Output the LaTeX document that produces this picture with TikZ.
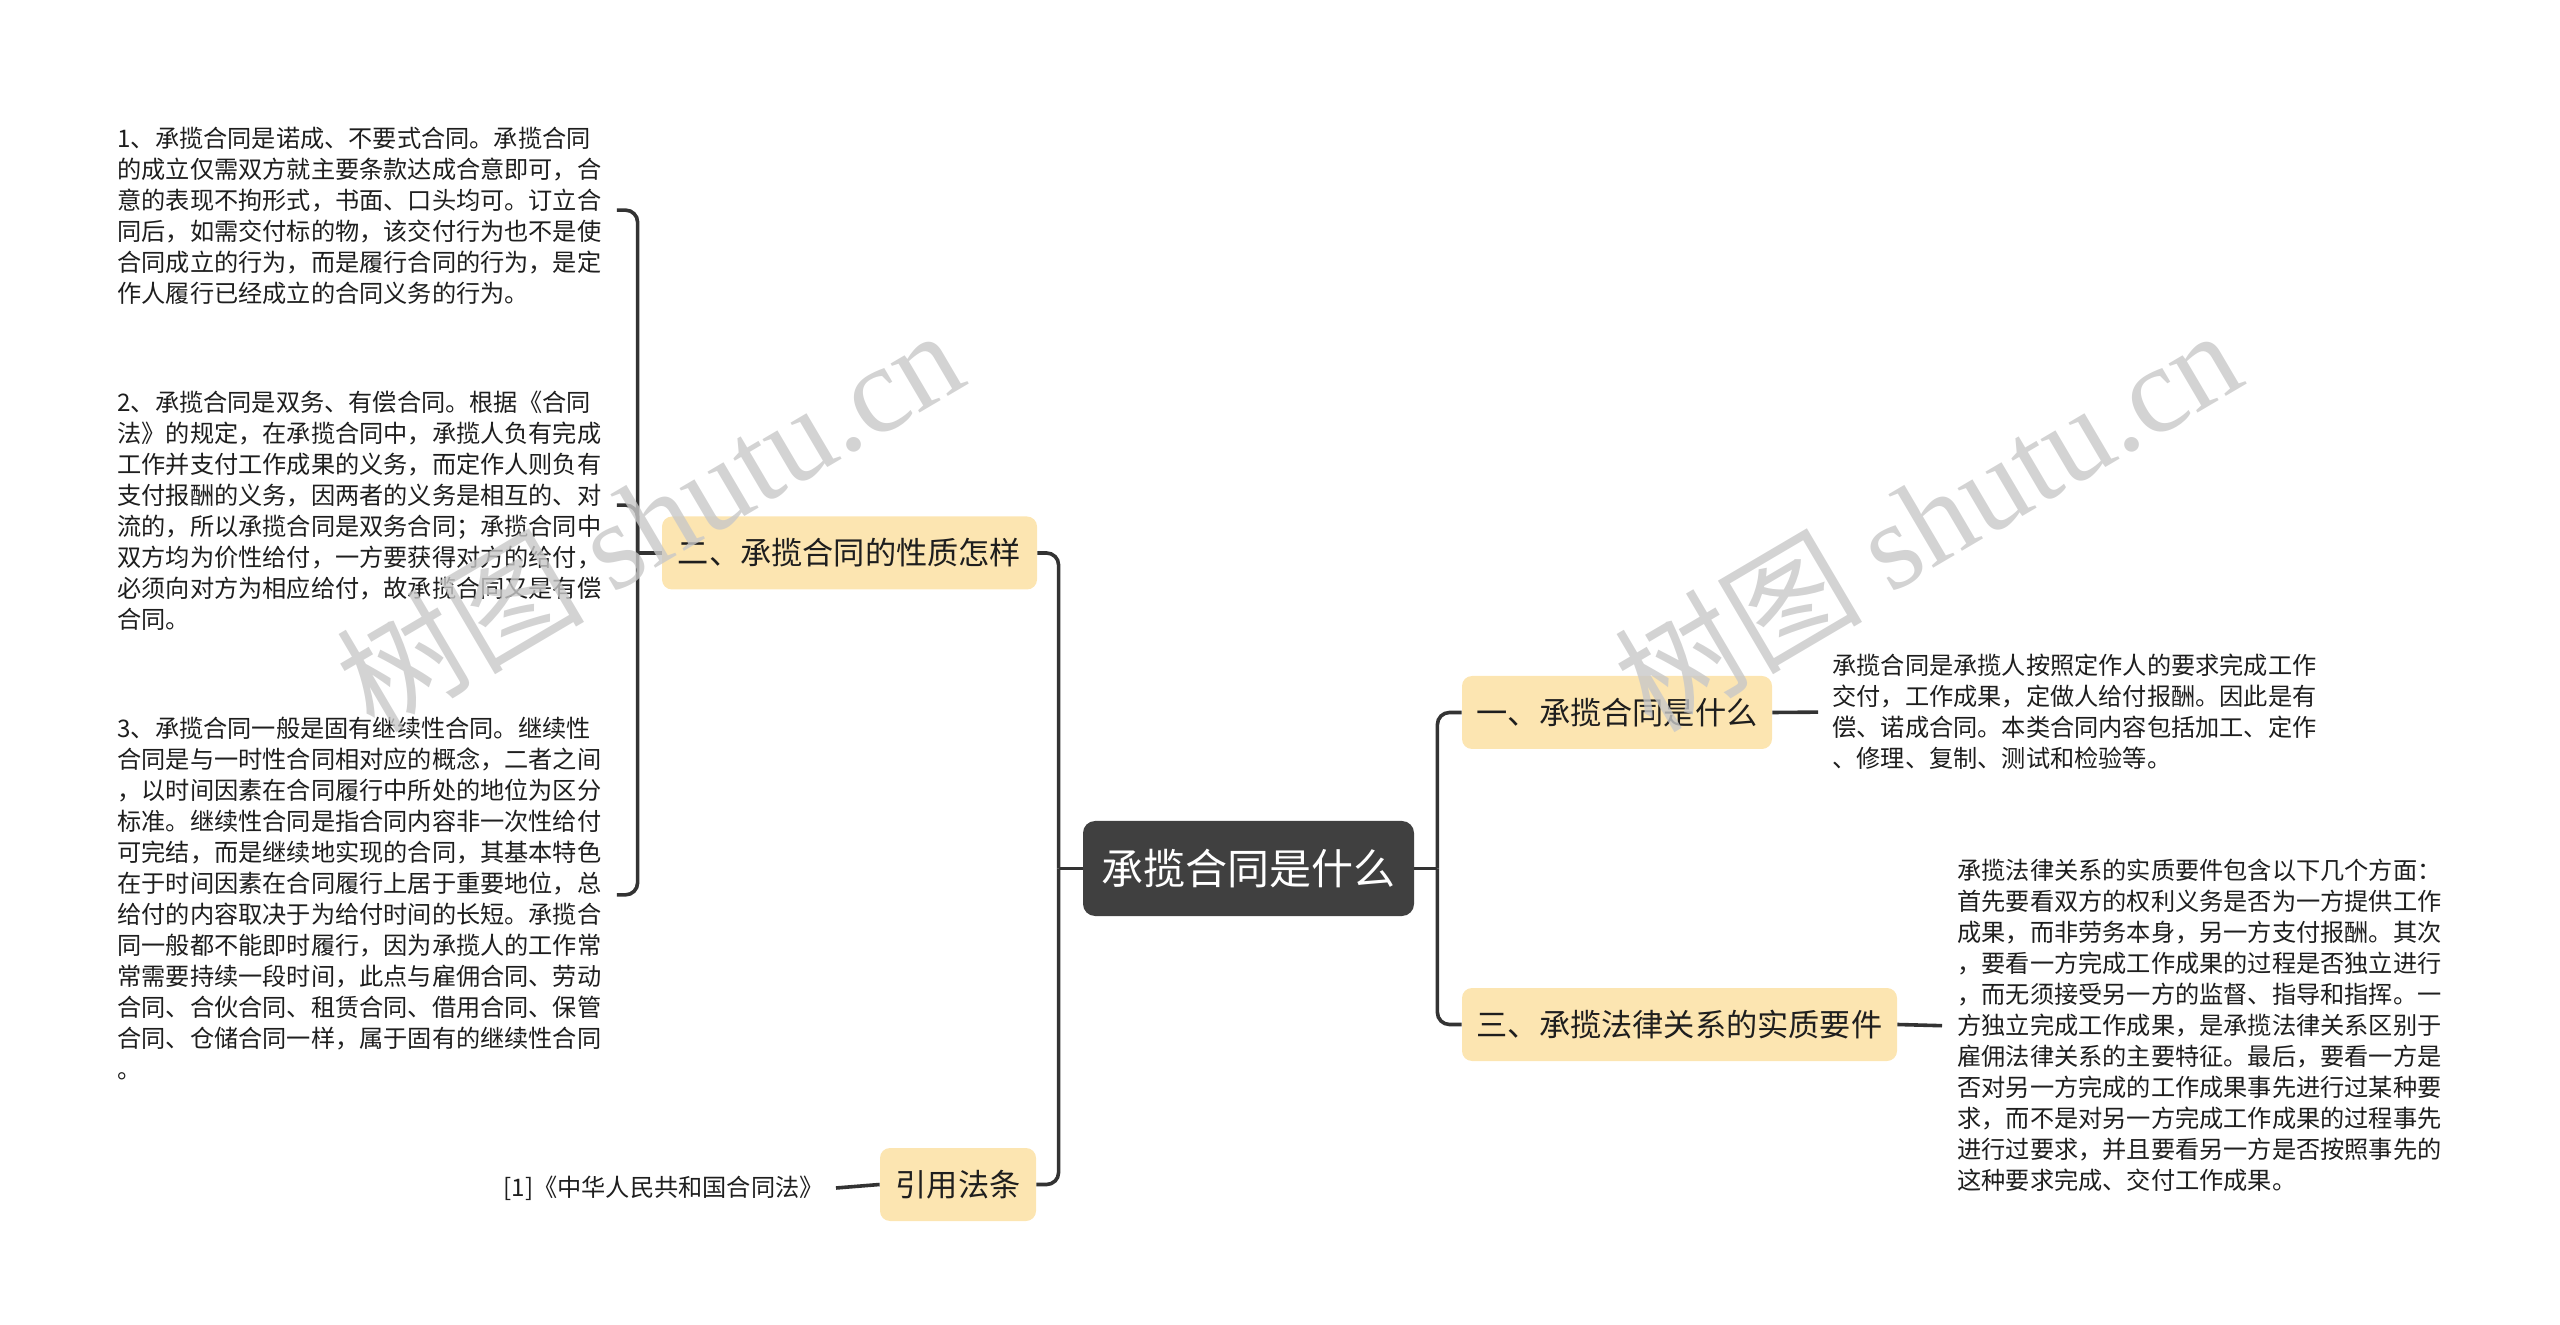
\documentclass[tikz,border=0pt]{standalone}
\usepackage{fontspec}
\setmainfont{Noto Sans CJK SC}
\newfontfamily\wmlatin{Liberation Serif}
\usetikzlibrary{calc}
\definecolor{nodey}{HTML}{FCE5B1}
\definecolor{rootc}{HTML}{404040}
\definecolor{linec}{HTML}{333333}
\definecolor{txt}{HTML}{1E1E1E}
\definecolor{wm}{HTML}{C8C8C8}
\begin{document}
\begin{tikzpicture}[x=0.5pt,y=-0.5pt,
  conn/.style={draw=linec, line width=1.8pt},
  elbow/.style={conn, rounded corners=6pt},
  topic/.style={fill=nodey, rounded corners=5pt, text=txt, inner sep=0pt,
    font=\fontsize{15.6pt}{18pt}\selectfont, minimum height=36.5pt},
  rootbox/.style={fill=rootc, rounded corners=6pt, text=white, inner sep=0pt,
    font=\fontsize{21pt}{24pt}\selectfont, minimum width=165.5pt, minimum height=47.5pt},
  para/.style={text=txt, inner sep=0pt, align=left, anchor=north west,
    font=\fontsize{12.1pt}{15.5pt}\selectfont},
  wmark/.style={text=wm, opacity=0.8, rotate=30.5, inner sep=0pt,
    font=\fontsize{62pt}{70pt}\selectfont}
]
\useasboundingbox (0,0) rectangle (2560,1325);

% nodes
\node[rootbox] (root) at (1248.5,868.5) {承揽合同是什么};
\node[topic, minimum width=155pt] (n1) at (1617,712.5) {一、承揽合同是什么};
\node[topic, minimum width=217.5pt] (n3) at (1679.5,1024.5) {三、承揽法律关系的实质要件};
\node[topic, minimum width=187.5pt] (n2) at (849.5,553) {二、承揽合同的性质怎样};
\node[topic, minimum width=78pt] (n4) at (958,1184.5) {引用法条};

% text blocks
\node[para] (b1) at (117,127) {1、承揽合同是诺成、不要式合同。承揽合同\\
的成立仅需双方就主要条款达成合意即可，合\\
意的表现不拘形式，书面、口头均可。订立合\\
同后，如需交付标的物，该交付行为也不是使\\
合同成立的行为，而是履行合同的行为，是定\\
作人履行已经成立的合同义务的行为。};

\node[para] (b2) at (117,391) {2、承揽合同是双务、有偿合同。根据《合同\\
法》的规定，在承揽合同中，承揽人负有完成\\
工作并支付工作成果的义务，而定作人则负有\\
支付报酬的义务，因两者的义务是相互的、对\\
流的，所以承揽合同是双务合同；承揽合同中\\
双方均为价性给付，一方要获得对方的给付，\\
必须向对方为相应给付，故承揽合同又是有偿\\
合同。};

\node[para] (b3) at (117,717) {3、承揽合同一般是固有继续性合同。继续性\\
合同是与一时性合同相对应的概念，二者之间\\
，以时间因素在合同履行中所处的地位为区分\\
标准。继续性合同是指合同内容非一次性给付\\
可完结，而是继续地实现的合同，其基本特色\\
在于时间因素在合同履行上居于重要地位，总\\
给付的内容取决于为给付时间的长短。承揽合\\
同一般都不能即时履行，因为承揽人的工作常\\
常需要持续一段时间，此点与雇佣合同、劳动\\
合同、合伙合同、租赁合同、借用合同、保管\\
合同、仓储合同一样，属于固有的继续性合同\\
。};

\node[para] (ba) at (1832,654) {承揽合同是承揽人按照定作人的要求完成工作\\
交付，工作成果，定做人给付报酬。因此是有\\
偿、诺成合同。本类合同内容包括加工、定作\\
、修理、复制、测试和检验等。};

\node[para] (bc) at (1957,859) {承揽法律关系的实质要件包含以下几个方面：\\
首先要看双方的权利义务是否为一方提供工作\\
成果，而非劳务本身，另一方支付报酬。其次\\
，要看一方完成工作成果的过程是否独立进行\\
，而无须接受另一方的监督、指导和指挥。一\\
方独立完成工作成果，是承揽法律关系区别于\\
雇佣法律关系的主要特征。最后，要看一方是\\
否对另一方完成的工作成果事先进行过某种要\\
求，而不是对另一方完成工作成果的过程事先\\
进行过要求，并且要看另一方是否按照事先的\\
这种要求完成、交付工作成果。};

\node[text=txt, inner sep=0pt, anchor=east, font=\fontsize{12.1pt}{15.5pt}\selectfont]
  (ref) at (824,1188) {[1]《中华人民共和国合同法》};

% junctions
\coordinate (jr) at ($(root.east)+(23,0)$);
\coordinate (jl) at ($(root.west)+(-24,0)$);
\coordinate (j2) at ($(n2.west)+(-24,0)$);

% connectors: root to right
\draw[conn] (root.east) -- (jr);
\draw[elbow] (jr) |- (n1.west);
\draw[elbow] (jr) |- (n3.west);
% root to left
\draw[conn] (root.west) -- (jl);
\draw[elbow] (jl) |- (n2.east);
\draw[elbow] (jl) |- (n4.east);
% n2 to its paragraphs
\draw[conn] (n2.west) -- (j2);
\draw[elbow] (j2) |- ($(b1.east)+(15,-6)$);
\draw[elbow] (j2) |- ($(b2.east)+(15,-6)$);
\draw[elbow] (j2) |- ($(b3.east)+(15,-4)$);
% leaves
\draw[conn] (n1.east) -- ($(ba.west)+(-14,0)$);
\draw[conn] (n3.east) -- ($(bc.west)+(-15,0)$);
\draw[conn] (n4.west) -- ($(ref.east)+(12,0)$);

% watermarks
\node[wmark] (wm1) at (649,518) {树图 {\wmlatin shutu.cn}};
\node[wmark] (wm2) at (1927,518) {树图 {\wmlatin shutu.cn}};
\end{tikzpicture}
\end{document}
